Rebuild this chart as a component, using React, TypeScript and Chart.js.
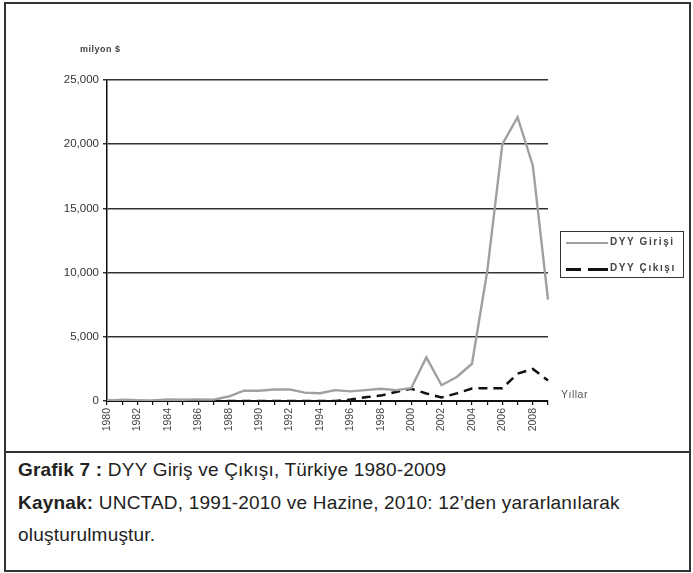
import React, { useEffect, useRef } from "react";
import { Chart, registerables } from "chart.js";

Chart.register(...registerables);

const years = [
  "1980", "1981", "1982", "1983", "1984", "1985", "1986", "1987", "1988", "1989",
  "1990", "1991", "1992", "1993", "1994", "1995", "1996", "1997", "1998", "1999",
  "2000", "2001", "2002", "2003", "2004", "2005", "2006", "2007", "2008", "2009",
];
const inflow = [
  18, 95, 55, 46, 113, 99, 125, 106, 350, 800,
  800, 900, 900, 650, 600, 850, 750, 850, 950, 850,
  1000, 3400, 1230, 1870, 2900, 10080, 20000, 22100, 18350, 7900,
];
const outflow = [
  0, 0, 0, 0, 0, 0, 0, 0, 0, 0,
  0, 0, 0, 0, 0, 0, 110, 300, 420, 700,
  950, 590, 280, 590, 975, 1000, 1000, 2130, 2500, 1600,
];
const yTicks = [0, 5000, 10000, 15000, 20000, 25000];
const seriesNames = ["DYY Girişi", "DYY Çıkışı"];

const FONT = "'Liberation Sans', Arial, sans-serif";

export default function App() {
  const ref = useRef<HTMLCanvasElement | null>(null);

  useEffect(() => {
    document.body.style.margin = "0";
    const ctx = ref.current!.getContext("2d")!;
    const chart = new Chart(ctx, {
      type: "line",
      data: {
        labels: years,
        datasets: [
          {
            label: seriesNames[0],
            data: inflow,
            borderColor: "#a0a0a0",
            borderWidth: 2.4,
            pointRadius: 0,
            tension: 0,
          },
          {
            label: seriesNames[1],
            data: outflow,
            borderColor: "#111111",
            borderWidth: 2.5,
            borderDash: [9, 6],
            pointRadius: 0,
            tension: 0,
          },
        ],
      },
      options: {
        animation: false,
        responsive: false,
        maintainAspectRatio: false,
        layout: { padding: { left: 0, right: 145, top: 80, bottom: 0 } },
        plugins: { legend: { display: false }, tooltip: { enabled: false }, title: { display: false } },
        scales: {
          x: {
            offset: false,
            grid: { drawOnChartArea: false, drawTicks: true, tickLength: 4, color: "#111", lineWidth: 1.2 },
            border: { color: "#111", width: 2 },
            ticks: {
              autoSkip: false,
              maxRotation: 90,
              minRotation: 90,
              padding: 3,
              color: "#444",
              font: { family: FONT, size: 10.5 },
              callback: (_v: any, i: number) => (i % 2 === 0 ? years[i] : ""),
            },
            afterFit: (s: any) => {
              s.height = 51;
            },
          },
          y: {
            min: 0,
            max: 25000,
            afterBuildTicks: (s: any) => {
              s.ticks = yTicks.map((v) => ({ value: v }));
            },
            grid: { color: "#333", lineWidth: 1.5, tickLength: 4 },
            border: { color: "#111", width: 1.5 },
            ticks: {
              padding: 4,
              color: "#333",
              font: { family: FONT, size: 11.5 },
              callback: (v: any) => Number(v).toLocaleString("en-US"),
            },
            afterFit: (s: any) => {
              s.width = 107;
            },
          },
        },
      },
    });
    return () => chart.destroy();
  }, []);

  return (
    <div style={{ position: "absolute", left: 0, top: 0, width: 693, height: 573, background: "#fff", fontFamily: FONT }}>
      <div style={{ position: "absolute", left: 4, top: 2, width: 683, height: 566, border: "2px solid #333" }} />
      <div style={{ position: "absolute", left: 4, top: 451, width: 687, height: 2, background: "#333" }} />
      <canvas ref={ref} width={693} height={452} style={{ position: "absolute", left: 0, top: 0, width: 693, height: 452 }} />
      <div style={{ position: "absolute", left: 80, top: 44, fontSize: 9, fontWeight: "bold", color: "#444", letterSpacing: 0.5 }}>milyon $</div>
      <div style={{ position: "absolute", left: 561, top: 388, fontSize: 10.5, color: "#555", letterSpacing: 0.5 }}>Yıllar</div>
      <div style={{ position: "absolute", left: 560, top: 231, width: 122, height: 45, border: "1.5px solid #333" }}>
        <div style={{ position: "absolute", left: 5, top: 10, width: 42, height: 2, background: "#a0a0a0" }} />
        <div style={{ position: "absolute", left: 49, top: 4, fontSize: 10, fontWeight: "bold", color: "#444", letterSpacing: 1.6 }}>{seriesNames[0]}</div>
        <div style={{ position: "absolute", left: 5, top: 36, width: 15, height: 3, background: "#111" }} />
        <div style={{ position: "absolute", left: 27, top: 36, width: 20, height: 3, background: "#111" }} />
        <div style={{ position: "absolute", left: 49, top: 30, fontSize: 10, fontWeight: "bold", color: "#444", letterSpacing: 1.6 }}>{seriesNames[1]}</div>
      </div>
      <div style={{ position: "absolute", left: 18, top: 454, fontSize: 19, color: "#222", lineHeight: "32.5px", letterSpacing: 0.2 }}>
        <div><b>Grafik 7 :</b> DYY Giriş ve Çıkışı, Türkiye 1980-2009</div>
        <div><b>Kaynak:</b> UNCTAD, 1991-2010 ve Hazine, 2010: 12’den yararlanılarak</div>
        <div>oluşturulmuştur.</div>
      </div>
    </div>
  );
}
